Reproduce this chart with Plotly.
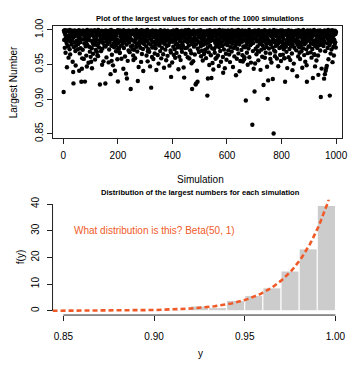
import math
import numpy as np
import plotly.graph_objects as go

# Shortfall of each simulation's largest value below 1.0, in units of 1e-4
# (simulations 1-50, 51-100, ...)
shortfall_rows = [
    [897, 12, 145, 38, 260, 5, 71, 330, 118, 22, 164, 190, 540, 9, 233, 85, 150, 241, 402, 17,
     126, 77, 280, 3, 355, 58, 170, 129, 95, 212, 47, 137, 14, 460, 68, 610, 774, 105, 250, 33,
     181, 7, 88, 305, 515, 52, 223, 160, 19, 73],
    [23, 156, 281, 207, 44, 119, 6, 590, 92, 340, 15, 178, 265, 61, 133, 750, 27, 563, 412, 49,
     288, 8, 141, 74, 420, 36, 199, 55, 748, 117, 18, 236, 89, 372, 163, 530, 3, 218, 66, 128,
     31, 475, 109, 84, 246, 11, 315, 152, 57, 390],
    [41, 462, 9, 267, 555, 76, 183, 30, 345, 214, 97, 148, 212, 162, 4, 430, 171, 25, 291, 53,
     135, 86, 318, 225, 367, 69, 380, 2, 194, 47, 256, 33, 161, 790, 79, 114, 21, 308, 158, 143,
     11, 505, 272, 93, 187, 39, 455, 126, 65, 16],
    [228, 113, 63, 775, 241, 7, 167, 398, 82, 130, 19, 205, 54, 149, 35, 470, 96, 284, 12, 176,
     44, 121, 640, 71, 3, 229, 448, 360, 26, 90, 137, 513, 60, 197, 15, 252, 104, 38, 590, 78,
     169, 22, 310, 87, 219, 48, 141, 425, 5, 747],
    [267, 188, 13, 274, 42, 325, 335, 8, 99, 160, 231, 56, 417, 24, 146, 81, 203, 37, 119, 562,
     4, 263, 73, 176, 29, 385, 51, 133, 92, 633, 17, 214, 702, 61, 155, 448, 35, 108, 297, 10,
     182, 46, 322, 85, 127, 21, 854, 240, 66, 139],
    [34, 152, 278, 226, 9, 370, 435, 47, 288, 63, 171, 20, 409, 93, 136, 58, 247, 1, 198, 75,
     312, 27, 740, 110, 84, 536, 43, 219, 167, 16, 90, 258, 131, 53, 463, 6, 184, 349, 70, 121,
     39, 276, 594, 12, 143, 87, 207, 25, 158, 65],
    [58, 135, 14, 242, 371, 88, 163, 2, 455, 309, 31, 279, 196, 67, 318, 45, 124, 528, 19, 213,
     80, 835, 147, 36, 392, 255, 7, 174, 61, 422, 103, 26, 236, 95, 341, 188, 52, 267, 11, 153,
     580, 72, 205, 118, 43, 364, 180, 23, 488, 84],
    [216, 227, 142, 69, 307, 4, 185, 97, 412, 130, 48, 261, 21, 166, 75, 353, 114, 37, 548, 202,
     9, 191, 83, 286, 55, 139, 440, 28, 233, 106, 64, 376, 12, 157, 92, 219, 33, 121, 517, 71,
     177, 40, 298, 329, 680, 18, 145, 86, 471, 59],
    [26, 173, 245, 8, 362, 117, 54, 281, 94, 403, 150, 38, 211, 77, 333, 1, 199, 126, 62, 254,
     15, 569, 108, 46, 387, 230, 82, 164, 30, 437, 134, 67, 272, 13, 318, 190, 49, 221, 101, 90,
     545, 24, 690, 158, 71, 264, 5, 346, 119, 42],
    [35, 128, 260, 11, 181, 395, 73, 148, 3, 226, 57, 415, 112, 89, 296, 19, 167, 44, 338, 482,
     206, 854, 66, 140, 27, 453, 186, 9, 243, 118, 81, 357, 155, 50, 790, 212, 774, 22, 132, 591,
     61, 750, 273, 14, 174, 96, 320, 39, 109, 70],
    [47, 193, 6, 238, 381, 124, 85, 302, 160, 29, 443, 73, 216, 137, 18, 350, 98, 175, 55, 287,
     311, 34, 409, 201, 68, 146, 12, 950, 258, 703, 90, 182, 325, 41, 507, 120, 4, 229, 162, 79,
     366, 25, 695, 139, 58, 268, 480, 106, 16, 572],
    [21, 154, 277, 63, 332, 8, 189, 417, 45, 241, 96, 401, 132, 17, 215, 74, 371, 168, 36, 523,
     249, 2, 143, 88, 306, 198, 52, 460, 113, 28, 179, 66, 233, 10, 392, 620, 127, 83, 284, 39,
     151, 554, 14, 207, 72, 345, 105, 432, 93, 186],
    [54, 221, 137, 9, 296, 78, 184, 358, 31, 116, 466, 62, 249, 19, 153, 87, 312, 5, 201, 128,
     42, 537, 170, 96, 263, 23, 384, 147, 68, 12, 230, 109, 655, 49, 193, 418, 81, 275, 35, 161,
     3, 340, 123, 71, 212, 598, 27, 176, 451, 92],
    [16, 145, 290, 58, 173, 7, 367, 457, 83, 240, 130, 38, 425, 396, 64, 253, 11, 157, 1020, 75,
     218, 29, 332, 114, 90, 505, 181, 46, 269, 138, 2, 396, 167, 73, 224, 119, 33, 473, 205, 57,
     149, 21, 1370, 86, 307, 190, 44, 561, 125, 13],
    [890, 63, 486, 12, 274, 131, 48, 352, 97, 167, 25, 239, 307, 70, 441, 6, 155, 315, 82, 204,
     140, 37, 578, 118, 59, 286, 174, 15, 389, 99, 226, 51, 160, 797, 32, 268, 112, 4, 403, 143,
     77, 330, 21, 193, 247, 88, 533, 127, 997, 41],
    [730, 18, 152, 271, 66, 195, 9, 340, 421, 85, 213, 44, 472, 168, 27, 103, 254, 710, 56, 137,
     1497, 3, 297, 180, 74, 380, 315, 39, 232, 93, 159, 14, 415, 62, 209, 146, 31, 526, 187, 80,
     20, 262, 124, 53, 363, 7, 171, 450, 98, 245],
    [46, 177, 8, 226, 358, 91, 134, 281, 23, 412, 409, 60, 750, 192, 15, 244, 71, 318, 156, 37,
     553, 128, 84, 203, 5, 395, 162, 52, 276, 117, 29, 437, 188, 95, 236, 11, 143, 341, 67, 582,
     214, 102, 40, 170, 488, 19, 258, 76, 151, 33],
    [62, 139, 12, 296, 180, 74, 670, 217, 35, 107, 384, 6, 163, 89, 253, 330, 48, 421, 199, 17,
     231, 81, 310, 115, 27, 547, 172, 58, 268, 2, 146, 94, 365, 208, 41, 124, 460, 69, 185, 22,
     282, 512, 750, 153, 10, 337, 101, 53, 240, 87],
    [30, 158, 243, 71, 8, 119, 326, 196, 54, 402, 137, 16, 277, 90, 695, 45, 209, 175, 3, 352,
     362, 66, 528, 233, 25, 147, 85, 443, 189, 39, 261, 104, 13, 371, 650, 78, 166, 222, 51, 129,
     7, 299, 93, 970, 183, 34, 560, 143, 216, 60],
    [19, 146, 88, 234, 41, 705, 171, 9, 640, 308, 113, 590, 64, 550, 27, 520, 195, 75, 262, 132,
     2, 425, 98, 158, 36, 219, 950, 52, 187, 343, 14, 120, 283, 69, 166, 5, 467, 104, 22, 247,
     81, 370, 141, 46, 205, 11, 178, 59, 256, 31],
]
shortfall_1e4 = [d for row in shortfall_rows for d in row]
largest = [1 - d / 10000 for d in shortfall_1e4]
simulation = list(range(1, len(largest) + 1))

top_x_ticks = [0, 200, 400, 600, 800, 1000]
top_y_ticks = [0.85, 0.90, 0.95, 1.00]
bot_x_ticks = [0.85, 0.90, 0.95, 1.00]
bot_y_ticks = [0, 10, 20, 30, 40]

beta_a, beta_b = 50, 1
hist_start, hist_end, hist_width = 0.85, 1.0, 0.01

curve_x = np.linspace(0.844, 1.0, 300)
beta_const = math.gamma(beta_a + beta_b) / (math.gamma(beta_a) * math.gamma(beta_b))
curve_y = beta_const * curve_x ** (beta_a - 1) * (1 - curve_x) ** (beta_b - 1)

ORANGE = "#F05A28"
FONT = "Liberation Sans, Arial, Helvetica, sans-serif"
W, H = 352, 365

fig = go.Figure()
fig.add_trace(go.Scatter(
    x=simulation, y=largest, mode="markers",
    marker=dict(color="black", size=4.4, line=dict(width=0)),
    xaxis="x", yaxis="y", showlegend=False, hoverinfo="skip"))
fig.add_trace(go.Histogram(
    x=largest, xbins=dict(start=hist_start, end=hist_end, size=hist_width),
    histnorm="probability density", autobinx=False,
    marker=dict(color="#CCCCCC", line=dict(color="white", width=1)),
    xaxis="x2", yaxis="y2", showlegend=False, hoverinfo="skip"))
fig.add_trace(go.Scatter(
    x=curve_x, y=curve_y, mode="lines",
    line=dict(color=ORANGE, width=2.6, dash="5px,3px"),
    xaxis="x2", yaxis="y2", showlegend=False, hoverinfo="skip"))

def px_x(p):
    return p / W

def px_y(p):
    return 1 - p / H

common = dict(showgrid=False, zeroline=False, ticks="outside", ticklen=5,
              tickcolor="#222", tickwidth=1, ticklabeloverflow="allow",
              tickfont=dict(family=FONT, size=10, color="black"))

fig.update_layout(
    width=W, height=H, autosize=False,
    margin=dict(l=0, r=0, t=0, b=0),
    paper_bgcolor="white", plot_bgcolor="white",
    font=dict(family=FONT, size=10, color="black"),
    bargap=0,
    xaxis=dict(domain=[px_x(53.5), px_x(347)], range=[-39, 1022], anchor="y",
               tickvals=top_x_ticks, showline=True, mirror=True,
               linecolor="#222", linewidth=1, ticklabelstandoff=3, **common),
    yaxis=dict(domain=[px_y(134.6), px_y(19)], range=[0.8435, 1.005], anchor="x",
               tickvals=top_y_ticks, tickformat=".2f", tickangle=-90,
               showline=True, mirror=True, linecolor="#222", linewidth=1,
               ticklabelstandoff=0, **common),
    xaxis2=dict(domain=[px_x(53.3), px_x(351.3)], range=[0.844, 1.006], anchor="y2",
                tickvals=bot_x_ticks, tickformat=".2f", showline=False,
                ticklabelstandoff=7, **common),
    yaxis2=dict(domain=[px_y(317.5), px_y(198.3)], range=[-1.6, 41.6], anchor="x2",
                tickvals=bot_y_ticks, tickangle=-90, showline=False,
                ticklabelstandoff=4, **common),
    shapes=[
        dict(type="line", xref="x2", yref="y2 domain", x0=bot_x_ticks[0], x1=bot_x_ticks[-1],
             y0=0, y1=0, line=dict(color="#222", width=1)),
        dict(type="line", xref="x2 domain", yref="y2", x0=0, x1=0,
             y0=bot_y_ticks[0], y1=bot_y_ticks[-1], line=dict(color="#222", width=1)),
    ],
    annotations=[
        dict(text="<b>Plot of the largest values for each of the 1000 simulations</b>",
             xref="paper", yref="paper", x=px_x(203), y=px_y(11), showarrow=False,
             xanchor="center", yanchor="middle", font=dict(family=FONT, size=7.6)),
        dict(text="Simulation", xref="paper", yref="paper", x=px_x(203), y=px_y(177),
             showarrow=False, xanchor="center", yanchor="middle",
             font=dict(family=FONT, size=10)),
        dict(text="Largest Number", xref="paper", yref="paper", x=px_x(14), y=px_y(77),
             showarrow=False, textangle=-90, xanchor="center", yanchor="middle",
             font=dict(family=FONT, size=10)),
        dict(text="<b>Distribution of the largest numbers for each simulation</b>",
             xref="paper", yref="paper", x=px_x(203), y=px_y(191), showarrow=False,
             xanchor="center", yanchor="middle", font=dict(family=FONT, size=7.6)),
        dict(text="y", xref="paper", yref="paper", x=px_x(203), y=px_y(357),
             showarrow=False, xanchor="center", yanchor="middle",
             font=dict(family=FONT, size=10)),
        dict(text="f(y)", xref="paper", yref="paper", x=px_x(21), y=px_y(258),
             showarrow=False, textangle=-90, xanchor="center", yanchor="middle",
             font=dict(family=FONT, size=10)),
        dict(text="What distribution is this? Beta(50, 1)", xref="x2", yref="y2",
             x=0.90, y=30, showarrow=False, xanchor="center", yanchor="middle",
             font=dict(family=FONT, size=10, color=ORANGE)),
    ],
)

fig.write_html(
    "out.html",
    config={"displayModeBar": False, "staticPlot": True},
    post_script="document.body.style.margin='0';document.body.style.overflow='hidden';",
)
